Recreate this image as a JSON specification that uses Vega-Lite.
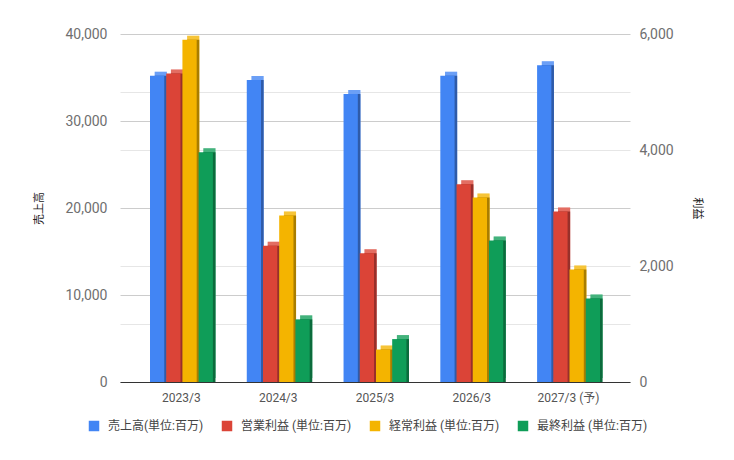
{
  "$schema": "https://vega.github.io/schema/vega-lite/v6.json",
  "width": 510,
  "height": 348,
  "autosize": {"type": "none"},
  "padding": {"left": 120, "top": 34, "right": 104, "bottom": 78},
  "background": "white",
  "config": {
    "font": "Roboto, 'Noto Sans CJK JP'",
    "view": {"stroke": null},
    "axis": {"labelFont": "Roboto, 'Noto Sans CJK JP'", "titleFont": "Roboto, 'Noto Sans CJK JP'"},
    "legend": {"labelFont": "Roboto, 'Noto Sans CJK JP'"}
  },
  "data": {
    "values": [
      {"year": "2023/3", "series": "売上高(単位:百万)", "value": 35200},
      {"year": "2023/3", "series": "営業利益 (単位:百万)", "value": 5320},
      {"year": "2023/3", "series": "経常利益 (単位:百万)", "value": 5900},
      {"year": "2023/3", "series": "最終利益 (単位:百万)", "value": 3960},
      {"year": "2024/3", "series": "売上高(単位:百万)", "value": 34700},
      {"year": "2024/3", "series": "営業利益 (単位:百万)", "value": 2350},
      {"year": "2024/3", "series": "経常利益 (単位:百万)", "value": 2870},
      {"year": "2024/3", "series": "最終利益 (単位:百万)", "value": 1080},
      {"year": "2025/3", "series": "売上高(単位:百万)", "value": 33100},
      {"year": "2025/3", "series": "営業利益 (単位:百万)", "value": 2220},
      {"year": "2025/3", "series": "経常利益 (単位:百万)", "value": 560},
      {"year": "2025/3", "series": "最終利益 (単位:百万)", "value": 740},
      {"year": "2026/3", "series": "売上高(単位:百万)", "value": 35200},
      {"year": "2026/3", "series": "営業利益 (単位:百万)", "value": 3410},
      {"year": "2026/3", "series": "経常利益 (単位:百万)", "value": 3180},
      {"year": "2026/3", "series": "最終利益 (単位:百万)", "value": 2440},
      {"year": "2027/3 (予)", "series": "売上高(単位:百万)", "value": 36400},
      {"year": "2027/3 (予)", "series": "営業利益 (単位:百万)", "value": 2940},
      {"year": "2027/3 (予)", "series": "経常利益 (単位:百万)", "value": 1940},
      {"year": "2027/3 (予)", "series": "最終利益 (単位:百万)", "value": 1440}
    ]
  },
  "encoding": {
    "x": {
      "field": "year",
      "type": "nominal",
      "sort": null,
      "scale": {"paddingInner": 0.35, "paddingOuter": 0.31},
      "axis": {
        "title": null,
        "labelAngle": 0,
        "labelFontSize": 12,
        "labelColor": "#555555",
        "labelPadding": 10,
        "ticks": false,
        "domainColor": "#333333",
        "domainWidth": 1,
        "grid": false
      }
    },
    "xOffset": {
      "field": "series",
      "type": "nominal",
      "scale": {
        "domain": ["売上高(単位:百万)", "営業利益 (単位:百万)", "経常利益 (単位:百万)", "最終利益 (単位:百万)"],
        "paddingInner": 0.12,
        "paddingOuter": 0
      }
    }
  },
  "layer": [
    {
      "transform": [{"filter": "datum.series === '売上高(単位:百万)'"}],
      "encoding": {
        "y": {
          "field": "value",
          "type": "quantitative",
          "scale": {"domain": [0, 40000], "nice": false},
          "axis": {
            "orient": "left",
            "title": "売上高",
            "titleFontSize": 11,
            "titleFontWeight": "normal",
            "titleColor": "#222222",
            "titlePadding": 20,
            "values": [0, 10000, 20000, 30000, 40000],
            "labelExpr": "format(datum.value, ',')",
            "labelFontSize": 14,
            "labelColor": "#6f6f6f",
            "labelPadding": 13,
            "ticks": false,
            "domain": false,
            "grid": true,
            "gridColor": "#cccccc"
          }
        }
      },
      "layer": [
        {
          "mark": {"type": "bar", "width": {"band": 0.85}, "yOffset": -4, "y2Offset": -4},
          "encoding": {
            "color": {
              "field": "series",
              "type": "nominal",
              "scale": {
                "domain": ["売上高(単位:百万)", "営業利益 (単位:百万)", "経常利益 (単位:百万)", "最終利益 (単位:百万)"],
                "range": ["#4285F4", "#DB4437", "#F4B400", "#0F9D58"]
              },
              "legend": {
                "orient": "none",
                "legendX": -32,
                "legendY": 386,
                "direction": "horizontal",
                "title": null,
                "symbolType": "square",
                "symbolSize": 110,
                "symbolStrokeWidth": 0,
                "labelFontSize": 12,
                "labelColor": "#444444",
                "labelOffset": 8,
                "columnPadding": 17,
                "labelLimit": 0
              }
            }
          }
        },
        {
          "mark": {"type": "bar", "color": "white", "opacity": 0.22, "width": {"band": 0.85}, "yOffset": -4, "y2Offset": -4}
        },
        {
          "mark": {"type": "bar", "width": {"band": 0.85}},
          "encoding": {
            "fill": {
              "field": "series",
              "type": "nominal",
              "scale": {
                "domain": ["売上高(単位:百万)", "営業利益 (単位:百万)", "経常利益 (単位:百万)", "最終利益 (単位:百万)"],
                "range": ["#2F5BA8", "#98302A", "#A97D00", "#0B6B3C"]
              },
              "legend": null
            }
          }
        },
        {
          "mark": {"type": "bar"},
          "encoding": {
            "color": {
              "field": "series",
              "type": "nominal",
              "scale": {
                "domain": ["売上高(単位:百万)", "営業利益 (単位:百万)", "経常利益 (単位:百万)", "最終利益 (単位:百万)"],
                "range": ["#4285F4", "#DB4437", "#F4B400", "#0F9D58"]
              },
              "legend": {
                "orient": "none",
                "legendX": -32,
                "legendY": 386,
                "direction": "horizontal",
                "title": null,
                "symbolType": "square",
                "symbolSize": 110,
                "symbolStrokeWidth": 0,
                "labelFontSize": 12,
                "labelColor": "#444444",
                "labelOffset": 8,
                "columnPadding": 17,
                "labelLimit": 0
              }
            }
          }
        }
      ]
    },
    {
      "transform": [{"filter": "datum.series !== '売上高(単位:百万)'"}],
      "encoding": {
        "y": {
          "field": "value",
          "type": "quantitative",
          "scale": {"domain": [0, 6000], "nice": false},
          "axis": {
            "orient": "right",
            "title": "利益",
            "titleAngle": 90,
            "titleFontSize": 11,
            "titleFontWeight": "normal",
            "titleColor": "#222222",
            "titlePadding": 18,
            "values": [0, 1000, 2000, 3000, 4000, 5000, 6000],
            "labelExpr": "datum.value % 2000 === 0 ? format(datum.value, ',') : ''",
            "labelFontSize": 14,
            "labelColor": "#6f6f6f",
            "labelPadding": 9,
            "ticks": false,
            "domain": false,
            "grid": true,
            "gridColor": "#e6e6e6",
            "gridOpacity": {"condition": {"test": "datum.value % 3000 === 0", "value": 0}, "value": 1}
          }
        }
      },
      "layer": [
        {
          "mark": {"type": "bar", "width": {"band": 0.85}, "yOffset": -4, "y2Offset": -4},
          "encoding": {
            "color": {
              "field": "series",
              "type": "nominal",
              "scale": {
                "domain": ["売上高(単位:百万)", "営業利益 (単位:百万)", "経常利益 (単位:百万)", "最終利益 (単位:百万)"],
                "range": ["#4285F4", "#DB4437", "#F4B400", "#0F9D58"]
              }
            }
          }
        },
        {
          "mark": {"type": "bar", "color": "white", "opacity": 0.22, "width": {"band": 0.85}, "yOffset": -4, "y2Offset": -4}
        },
        {
          "mark": {"type": "bar", "width": {"band": 0.85}},
          "encoding": {
            "fill": {
              "field": "series",
              "type": "nominal",
              "scale": {
                "domain": ["売上高(単位:百万)", "営業利益 (単位:百万)", "経常利益 (単位:百万)", "最終利益 (単位:百万)"],
                "range": ["#2F5BA8", "#98302A", "#A97D00", "#0B6B3C"]
              },
              "legend": null
            }
          }
        },
        {
          "mark": {"type": "bar"},
          "encoding": {
            "color": {
              "field": "series",
              "type": "nominal",
              "scale": {
                "domain": ["売上高(単位:百万)", "営業利益 (単位:百万)", "経常利益 (単位:百万)", "最終利益 (単位:百万)"],
                "range": ["#4285F4", "#DB4437", "#F4B400", "#0F9D58"]
              }
            }
          }
        }
      ]
    }
  ],
  "resolve": {"scale": {"y": "independent"}}
}
